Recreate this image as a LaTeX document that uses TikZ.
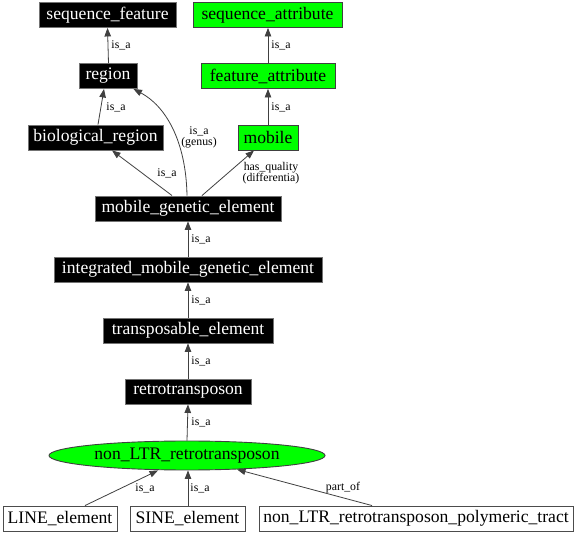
\documentclass[tikz,border=0pt]{standalone}
\usepackage{fontspec}
\setmainfont{Liberation Serif}
\usetikzlibrary{arrows.meta,shapes.geometric,calc}
\begin{document}
\begin{tikzpicture}[x=1pt,y=-1pt,
  base/.style={rectangle, minimum height=25pt, inner sep=0pt, line width=0.9pt, font=\fontsize{17.6}{20}\selectfont},
  blk/.style={base, fill=black, draw=black!55, text=white},
  grn/.style={base, fill=green, draw=black!75},
  wht/.style={base, fill=white, draw=black!70},
  lbl/.style={font=\fontsize{11.8}{11.5}\selectfont, inner sep=0pt, align=center},
  conn/.style={draw=black!75, line width=0.8pt, -{Triangle[length=8.5pt,width=6.5pt]}}]
\useasboundingbox[fill=white] (0,0) rectangle (576,534);
% nodes
\node[blk, minimum width=137pt] (sf) at (107.5,15) {sequence\_feature};
\node[grn, minimum width=149pt] (sa) at (267.5,15) {sequence\_attribute};
\node[blk, minimum width=58pt] (reg) at (108,76) {region};
\node[grn, minimum width=134pt] (fa) at (268,76) {feature\_attribute};
\node[blk, minimum width=135pt] (br) at (95.5,137.5) {biological\_region};
\node[grn, minimum width=60pt] (mob) at (268,137.5) {mobile};
\node[blk, minimum width=186pt] (mge) at (188,208.5) {mobile\_genetic\_element};
\node[blk, minimum width=268pt] (imge) at (188,269.5) {integrated\_mobile\_genetic\_element};
\node[blk, minimum width=170pt] (te) at (188,330.5) {transposable\_element};
\node[blk, minimum width=126pt] (rt) at (188,391.5) {retrotransposon};
\node[ellipse, fill=green, draw=black!75, line width=0.9pt, minimum width=276pt, minimum height=29pt, inner sep=0pt, font=\fontsize{17.6}{20}\selectfont] (nlr) at (187,455.5) {non\_LTR\_retrotransposon};
\node[wht, minimum width=114pt] (line) at (60,518.5) {LINE\_element};
\node[wht, minimum width=115pt] (sine) at (187.5,518.5) {SINE\_element};
\node[wht, minimum width=314pt] (tract) at (416,518.5) {non\_LTR\_retrotransposon\_polymeric\_tract};
% connectors
\draw[conn] ([xshift=0.5pt]reg.north) -- (sf.south);
\draw[conn] (fa.north) -- ([xshift=0.5pt]sa.south);
\draw[conn] ([xshift=2.5pt]br.north) -- ([xshift=-4pt]reg.south);
\draw[conn] (mob.north) -- (fa.south);
\draw[conn] ([xshift=-16pt]mge.north) -- ([xshift=16.5pt]br.south);
\draw[conn] ([xshift=14pt]mge.north) -- ([xshift=-14pt]mob.south);
\draw[conn] ([xshift=-1pt]mge.north) .. controls ($(mge.north)+(-2,-55)$) and ($(reg.south east)+(28,17)$) .. ([xshift=-4pt]reg.south east);
\draw[conn] (imge.north) -- (mge.south);
\draw[conn] (te.north) -- (imge.south);
\draw[conn] (rt.north) -- (te.south);
\draw[conn] (nlr.north) -- (rt.south);
\draw[conn] ([xshift=25pt]line.north) -- ([xshift=-29pt]nlr.south);
\draw[conn] ([xshift=0.5pt]sine.north) -- ([xshift=1pt]nlr.south);
\draw[conn] ([xshift=-44pt]tract.north) -- ([xshift=50pt,yshift=1pt]nlr.south);
% labels
\node[lbl] (l1) at (121,45) {is\_a};
\node[lbl] (l2) at (281,45) {is\_a};
\node[lbl] (l3) at (116,107) {is\_a};
\node[lbl] (l4) at (281,107) {is\_a};
\node[lbl] (l5) at (199,137.5) {is\_a\\(genus)};
\node[lbl] (l6) at (271,173) {has\_quality\\(differentia)};
\node[lbl] (l7) at (167,173) {is\_a};
\node[lbl] (l8) at (201,239) {is\_a};
\node[lbl] (l9) at (201,300) {is\_a};
\node[lbl] (l10) at (201,361) {is\_a};
\node[lbl] (l11) at (201,422) {is\_a};
\node[lbl] (l12) at (145,488) {is\_a};
\node[lbl] (l13) at (200,488) {is\_a};
\node[lbl] (l14) at (343,488) {part\_of};
\end{tikzpicture}
\end{document}
